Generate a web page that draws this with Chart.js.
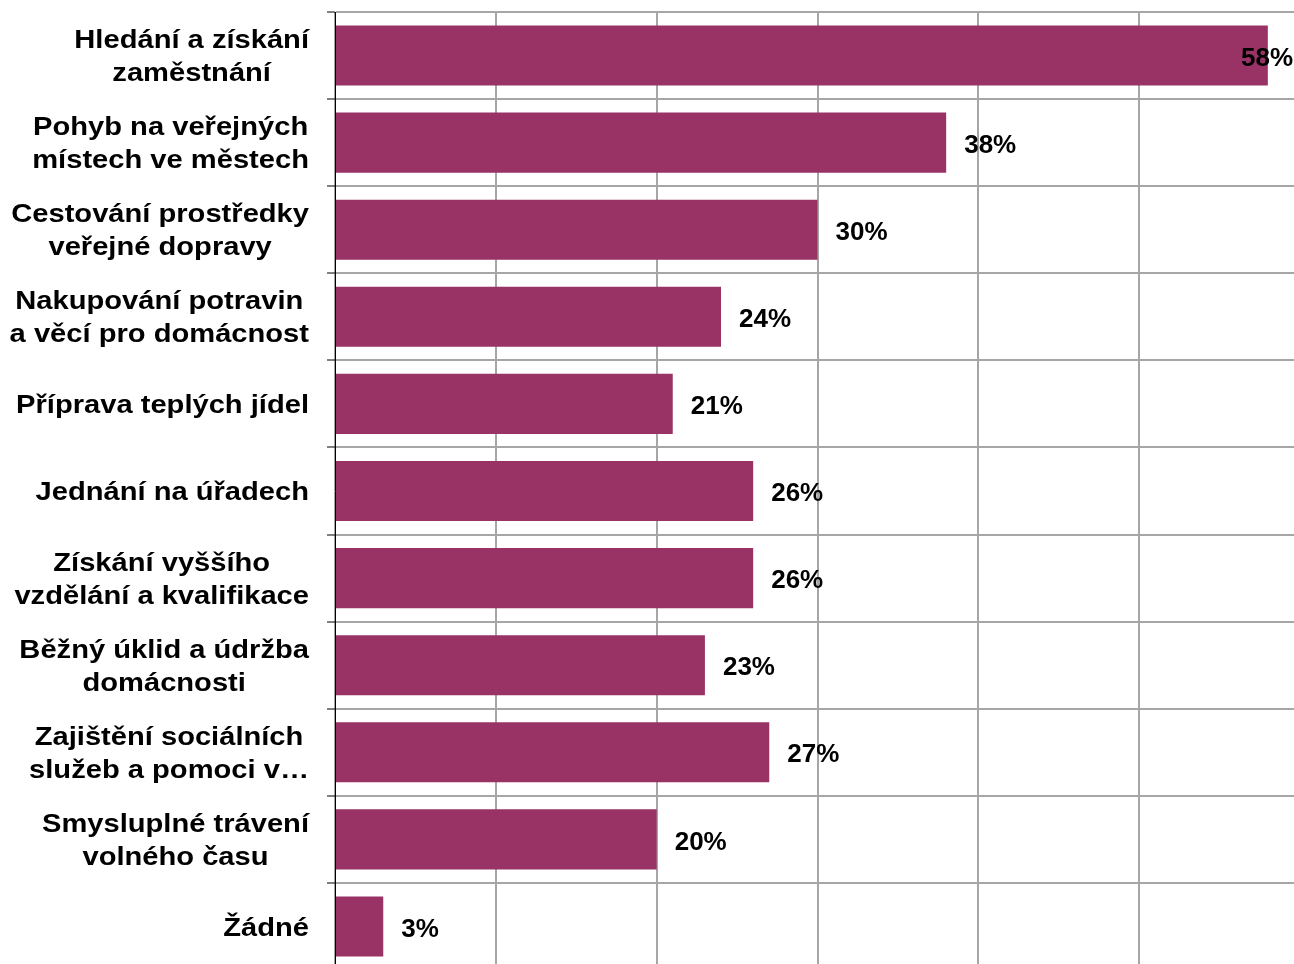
<!DOCTYPE html>
<html>
<head>
<meta charset="utf-8">
<script src="https://cdn.jsdelivr.net/npm/chart.js@4/dist/chart.umd.min.js"></script>
<style>
html,body{margin:0;padding:0;background:#fff;overflow:hidden;width:1294px;height:964px;}
canvas{display:block;}
</style>
</head>
<body>
<canvas id="c" width="1300" height="973"></canvas>
<script>
const categories = [
  ["Hledání a získání", "zaměstnání"],
  ["Pohyb na veřejných", "místech ve městech"],
  ["Cestování prostředky", "veřejné dopravy"],
  ["Nakupování potravin", "a věcí pro domácnost"],
  ["Příprava teplých jídel"],
  ["Jednání na úřadech"],
  ["Získání vyššího", "vzdělání a kvalifikace"],
  ["Běžný úklid a údržba", "domácnosti"],
  ["Zajištění sociálních", "služeb a pomoci v…"],
  ["Smysluplné trávení", "volného času"],
  ["Žádné"]
];
const values = [58, 38, 30, 24, 21, 26, 26, 23, 27, 20, 3];
const xMin = 0, xMax = 60, xStep = 10;

const LABEL_FONT = 'bold 26px "Liberation Sans", Arial, sans-serif';
const LABEL_SX = 1.12;
const VALUE_FONT = 'bold 26px "Liberation Sans", Arial, sans-serif';

const labelPlugin = {
  id: 'customLabels',
  afterDatasetsDraw(chart) {
    const ctx = chart.ctx;
    const ys = chart.scales.y, xs = chart.scales.x;
    ctx.save();
    ctx.fillStyle = '#000';
    ctx.textBaseline = 'middle';
    categories.forEach((lines, i) => {
      const cy = ys.getPixelForValue(i);
      ctx.font = LABEL_FONT;
      const widths = lines.map(l => ctx.measureText(l).width * LABEL_SX);
      const w = Math.max(...widths);
      const right = chart.chartArea.left - 26;
      ctx.textAlign = 'center';
      lines.forEach((l, j) => {
        ctx.save();
        ctx.translate(right - w / 2, cy + (j - (lines.length - 1) / 2) * 33 + 2);
        ctx.scale(LABEL_SX, 1);
        ctx.fillText(l, 0, 0);
        ctx.restore();
      });
      ctx.font = VALUE_FONT;
      const txt = values[i] + '%';
      const tw = ctx.measureText(txt).width;
      let tx = xs.getPixelForValue(values[i]) + 18;
      tx = Math.min(tx, 1293 - tw);
      ctx.textAlign = 'left';
      ctx.fillText(txt, tx, cy + 3);
    });
    ctx.restore();
  }
};

new Chart(document.getElementById('c'), {
  type: 'bar',
  data: {
    labels: categories.map(c => c.join(' ')),
    datasets: [{
      data: values,
      backgroundColor: '#993366',
      borderWidth: 0,
      categoryPercentage: 1,
      barPercentage: 0.69
    }]
  },
  options: {
    indexAxis: 'y',
    responsive: false,
    animation: false,
    devicePixelRatio: 1,
    layout: { padding: { top: 12, bottom: 3, left: 0, right: 0 } },
    plugins: { legend: { display: false }, tooltip: { enabled: false } },
    scales: {
      x: {
        min: xMin, max: xMax,
        ticks: { display: false, stepSize: xStep },
        grid: { color: '#a6a6a6', lineWidth: 2, drawTicks: false },
        border: { display: false },
        afterFit(s) { s.height = 0; }
      },
      y: {
        ticks: { display: false },
        grid: { offset: true, color: '#a6a6a6', lineWidth: 2, tickColor: '#000', tickWidth: 1, tickLength: 8, drawTicks: true },
        border: { display: true, color: '#000', width: 1 },
        afterFit(s) { s.width = 335; }
      }
    }
  },
  plugins: [labelPlugin]
});
</script>
</body>
</html>
